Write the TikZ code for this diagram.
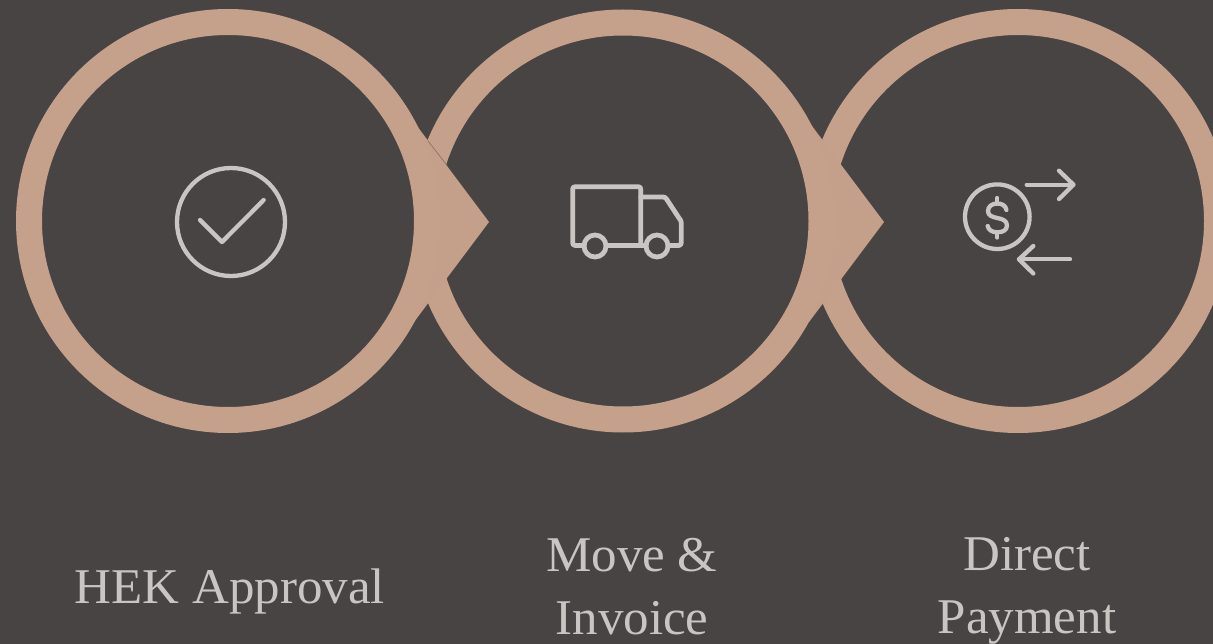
\documentclass[tikz,border=0pt]{standalone}
\usepackage{fontspec}
\setmainfont[FakeStretch=1.02]{Liberation Serif}
\definecolor{bgc}{HTML}{484443}
\definecolor{ringc}{HTML}{C5A08B}
\definecolor{arrowc}{HTML}{C49F8A}
\definecolor{inkc}{HTML}{CAC4C2}
\tikzset{
  ring/.style={draw=ringc,fill=bgc,line width=26pt},
  chevron/.style={fill=arrowc,draw=none},
  seam/.style={draw=bgc!60!ringc,line width=0.5pt},
  icon/.style={draw=inkc,line width=4.3pt,line cap=round,line join=round},
  lbl/.style={text=inkc,font=\fontsize{50}{63}\selectfont,align=center,inner sep=0pt}
}
\begin{document}
\begin{tikzpicture}[x=1pt,y=-1pt]
\useasboundingbox (0,0) rectangle (1213,644);
\fill[bgc] (0,0) rectangle (1213,644);
\coordinate (c1) at (228,221);
\coordinate (c2) at (623,221);
\coordinate (c3) at (1018,221);
\coordinate (a1t) at (414,122);\coordinate (a1p) at (489,222);\coordinate (a1b) at (414,322);
\coordinate (a2t) at (809,122);\coordinate (a2p) at (884,222);\coordinate (a2b) at (809,322);
\draw[ring] (c3) circle[radius=199];
\fill[chevron] (a2t) -- (a2p) -- (a2b) -- cycle;
\draw[ring] (c2) circle[radius=198.5];
\fill[chevron] (a1t) -- (a1p) -- (a1b) -- cycle;
\coordinate (s1a) at (428,141);\coordinate (s1b) at (447.5,166);
\draw[seam] (s1a) -- (s1b);
\draw[ring] (c1) circle[radius=199];
% check icon
\draw[icon] (231,222) circle[radius=54];
\draw[icon] (200,220) -- (222,242) -- (263.7,200);
% truck icon
\draw[icon,line width=4.8pt] (584,245.5) -- (575.5,245.5) .. controls (573.5,245.5) and (572.7,244.5) .. (572.7,243) -- (572.7,189) .. controls (572.7,187.5) and (573.5,186.7) .. (575.5,186.7) -- (638,186.7) .. controls (640,186.7) and (640.7,187.5) .. (640.7,189) -- (640.7,245.5) -- (606,245.5);
\draw[icon,line width=4.8pt] (640.7,197) -- (663,197) .. controls (664.5,197) and (665.5,197.5) .. (666.5,199) -- (679,218) .. controls (680.5,220) and (681.3,221) .. (681.3,223) -- (681.3,242.5) .. controls (681.3,244.5) and (680.5,245.5) .. (678.5,245.5) -- (668,245.5);
\draw[icon,line width=4.8pt] (646,245.5) -- (640.7,245.5);
\draw[icon,line width=4.8pt] (595,246) circle[radius=11];
\draw[icon,line width=4.8pt] (657,246) circle[radius=11];
% money icon
\draw[icon] (997.3,216.7) circle[radius=32.3];
\draw[icon] (1006.5,210) .. controls (1005.5,205.5) and (1002,203.5) .. (997.3,203.5) .. controls (992,203.5) and (988,206.5) .. (988,211) .. controls (988,215.5) and (992,217) .. (997.3,218) .. controls (1003,219) and (1007,221) .. (1007,225.5) .. controls (1007,230) and (1003,232.3) .. (997.3,232.3) .. controls (992,232.3) and (988.5,230) .. (987.7,226);
\draw[icon] (997.3,198) -- (997.3,203.5);
\draw[icon] (997.3,232.3) -- (997.3,237.5);
\draw[icon] (1026.7,184.7) -- (1073,184.7);
\draw[icon] (1059,170.7) -- (1073.5,184.7) -- (1059,199);
\draw[icon] (1070,259.3) -- (1019,259.3);
\draw[icon] (1033.3,246) -- (1019,259.3) -- (1033.3,273.5);
% labels
\node[lbl,anchor=base] (t1) at (230,603) {HEK Approval};
\node[lbl] (t2) at (632,586.5) {Move \&\\Invoice};
\node[lbl] (t3) at (1027,591) {Direct\\Payment};
\end{tikzpicture}
\end{document}
